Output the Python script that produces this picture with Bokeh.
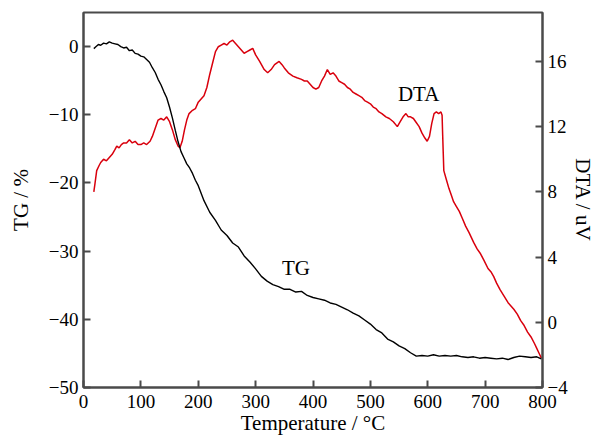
from bokeh.plotting import figure
from bokeh.models import Range1d, LinearAxis, FixedTicker
from bokeh.core.properties import value
from bokeh.embed import file_html
from bokeh.resources import INLINE

# ---------------- data ----------------
tg_temp = [18, 22, 26, 30, 35, 40, 45, 50, 55, 60, 65, 70, 75, 80, 85, 90, 95, 100, 105, 110,
           115, 120, 125, 130, 135, 140, 145, 150, 155, 160, 165, 170, 175, 180, 185, 190, 195,
           200, 210, 220, 230, 240, 250, 260, 270, 280, 290, 300, 310, 320, 330, 340, 350, 360,
           370, 380, 390, 400, 410, 420, 430, 440, 450, 460, 470, 480, 490, 500, 510, 520, 530,
           540, 550, 560, 570, 580, 590, 600, 610, 620, 630, 640, 650, 660, 670, 680, 690, 700,
           710, 720, 730, 740, 750, 760, 770, 780, 790, 798]
tg_values = [-0.3, 0.0, 0.3, 0.2, 0.5, 0.4, 0.7, 0.5, 0.4, 0.3, 0.0, -0.2, -0.1, -0.6, -0.5, -1.0,
             -1.1, -1.4, -1.5, -1.9, -2.3, -3.1, -3.8, -4.8, -5.6, -6.6, -7.5, -8.9, -10.5, -12.3,
             -14.0, -15.4, -16.3, -17.2, -17.8, -18.6, -19.6, -20.4, -22.6, -24.3, -25.5, -26.9,
             -27.7, -28.8, -29.4, -30.7, -31.6, -32.6, -33.7, -34.4, -34.9, -35.2, -35.6, -35.6,
             -36.0, -35.9, -36.5, -36.8, -37.0, -37.2, -37.6, -37.8, -38.2, -38.6, -39.1, -39.5,
             -40.1, -40.7, -41.5, -42.0, -42.9, -43.3, -43.9, -44.3, -44.9, -45.4, -45.3, -45.4,
             -45.2, -45.4, -45.3, -45.4, -45.3, -45.5, -45.6, -45.5, -45.7, -45.6, -45.7, -45.8,
             -45.7, -45.9, -45.6, -45.4, -45.5, -45.6, -45.5, -45.8]

dta_temp = [18, 20, 23, 27, 30, 35, 40, 45, 50, 55, 58, 62, 66, 70, 75, 80, 85, 90, 95, 100,
            105, 110, 116, 120, 125, 130, 135, 140, 145, 150, 155, 160, 165, 168, 172, 176, 180,
            184, 190, 195, 200, 205, 210, 215, 220, 225, 230, 235, 240, 245, 250, 255, 260, 265,
            270, 275, 280, 285, 290, 295, 300, 307, 315, 321, 327, 333, 341, 346, 350, 357, 365,
            372, 380, 385, 390, 395, 400, 405, 410, 415, 420, 425, 430, 435, 440, 445, 450, 455,
            460, 465, 470, 475, 480, 485, 490, 495, 500, 505, 510, 515, 520, 527, 533, 540, 547,
            552, 557, 562, 566, 570, 575, 579, 585, 590, 595, 599, 603, 607, 611, 615, 619, 623,
            625, 626, 627, 628, 632, 637, 641, 645, 650, 655, 660, 666, 672, 680, 686, 692, 698,
            705, 710, 715, 720, 726, 733, 740, 745, 750, 756, 762, 768, 774, 780, 786, 790, 794,
            798]
dta_values = [8.0, 8.5, 9.3, 9.6, 9.8, 10.0, 9.9, 10.1, 10.3, 10.6, 10.8, 10.7, 10.9, 11.0, 11.0,
              11.2, 11.0, 11.1, 10.9, 10.9, 11.0, 10.9, 11.1, 11.4, 11.9, 12.4, 12.5, 12.4, 12.6,
              12.3, 11.8, 11.2, 10.8, 10.7, 11.1, 11.8, 12.4, 12.8, 13.0, 13.1, 13.5, 13.7, 13.9,
              14.4, 15.2, 15.9, 16.6, 16.9, 17.0, 17.1, 17.0, 17.2, 17.3, 17.1, 16.9, 16.7, 16.5,
              16.6, 16.7, 16.8, 16.4, 16.0, 15.5, 15.3, 15.5, 15.8, 16.0, 15.8, 15.6, 15.3, 15.1,
              15.0, 14.9, 14.8, 14.8, 14.6, 14.4, 14.3, 14.4, 14.8, 15.1, 15.5, 15.2, 15.3, 15.1,
              14.8, 14.7, 14.6, 14.4, 14.3, 14.1, 14.0, 13.9, 13.8, 13.6, 13.5, 13.4, 13.2, 13.1,
              12.9, 12.8, 12.6, 12.5, 12.3, 12.0, 12.3, 12.6, 12.8, 12.6, 12.6, 12.5, 12.3, 12.0,
              11.6, 11.3, 11.1, 11.4, 12.2, 12.8, 12.9, 12.8, 12.9, 12.7, 11.5, 10.4, 9.3, 8.8,
              8.2, 7.8, 7.4, 7.1, 6.8, 6.4, 5.9, 5.5, 4.9, 4.5, 4.2, 3.8, 3.3, 3.1, 2.8, 2.4, 2.0,
              1.6, 1.2, 1.0, 0.8, 0.5, 0.1, -0.2, -0.6, -0.9, -1.3, -1.6, -1.9, -2.2]

x_ticks = [0, 100, 200, 300, 400, 500, 600, 700, 800]
tg_ticks = [-50, -40, -30, -20, -10, 0]
dta_ticks = [-4, 0, 4, 8, 12, 16]

curve_labels = ["DTA", "TG"]
label_x = [548, 346]
label_y = [-7.0, -32.5]   # in TG (left axis) units

FONT = "Liberation Serif"
FS = "19px"      # tick labels
FS_T = "21px"    # titles and curve labels
FRAME = "#4a4a4a"
RED = "#d9000d"

# ---------------- figure ----------------
p = figure(width=597, height=438, output_backend="svg", toolbar_location=None,
           x_range=Range1d(0, 800), y_range=Range1d(-50, 5),
           min_border_left=83, min_border_right=53, min_border_top=12, min_border_bottom=51)
p.extra_y_ranges = {"dta": Range1d(-4, 19)}
p.xgrid.visible = False
p.ygrid.visible = False
p.outline_line_color = FRAME
p.outline_line_width = 2
p.background_fill_color = "white"
p.border_fill_color = "white"

def minus(v):
    return str(v).replace("-", "\u2212")

def style_axis(ax, ticks):
    ax.ticker = FixedTicker(ticks=ticks)
    ax.major_label_overrides = {t: minus(t) for t in ticks}
    ax.major_tick_in = 7
    ax.major_tick_out = 0
    ax.minor_tick_in = 0
    ax.minor_tick_out = 0
    ax.axis_line_color = FRAME
    ax.axis_line_width = 2
    ax.major_tick_line_color = FRAME
    ax.major_tick_line_width = 2
    ax.major_label_text_font = FONT
    ax.major_label_text_font_size = FS
    ax.major_label_text_color = "black"
    ax.axis_label_text_font = FONT
    ax.axis_label_text_font_size = FS_T
    ax.axis_label_text_font_style = "normal"
    ax.axis_label_text_color = "black"

xa = p.xaxis[0]
style_axis(xa, x_ticks)
xa.axis_label = "Temperature / \u00b0C"
xa.major_label_standoff = 7
xa.axis_label_standoff = 0

ya = p.yaxis[0]
style_axis(ya, tg_ticks)
ya.axis_label = "TG / %"
ya.major_label_standoff = 5
ya.axis_label_standoff = 13

ra = LinearAxis(y_range_name="dta")
style_axis(ra, dta_ticks)
ra.axis_label = "DTA / uV"
ra.major_label_standoff = 5
ra.axis_label_standoff = 0
p.add_layout(ra, "right")

p.line(dta_temp, dta_values, y_range_name="dta", line_color=RED, line_width=1.5)
p.line(tg_temp, tg_values, line_color="black", line_width=1.4)

p.text(x=label_x, y=label_y, text=curve_labels, text_font=value(FONT), text_font_size=FS_T,
       text_baseline="alphabetic", text_align="left", text_color="black")

open("out.html", "w").write(file_html(p, INLINE))
